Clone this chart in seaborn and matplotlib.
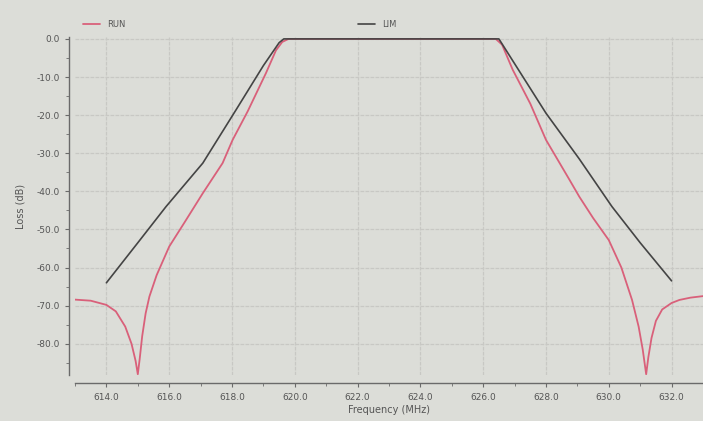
import numpy as np
import pandas as pd
import matplotlib
matplotlib.use('Agg')
import matplotlib.pyplot as plt
import seaborn as sns
from matplotlib.ticker import MultipleLocator, FuncFormatter

run_freq = [612.97, 613.5, 614.0, 614.3, 614.6, 614.8, 614.93, 615.0, 615.06, 615.14,
            615.25, 615.37, 615.6, 616.0, 616.5, 617.07, 617.7, 618.02, 618.5, 619.08,
            619.4, 619.6, 619.8, 626.4, 626.6, 626.94, 627.5, 628.0, 628.75, 629.06,
            629.5, 630.0, 630.4, 630.74, 630.95, 631.08, 631.19, 631.26, 631.36, 631.5,
            631.7, 632.0, 632.25, 632.6, 633.0]
run_loss = [-68.4, -68.7, -69.8, -71.5, -75.5, -80.0, -84.5, -88.0, -84.0, -78.0,
            -72.0, -67.6, -62.0, -54.5, -48.0, -40.5, -32.6, -26.5, -19.0, -9.0,
            -3.0, -0.8, 0.0, 0.0, -1.5, -8.1, -17.0, -26.5, -37.0, -41.4,
            -47.0, -52.8, -60.0, -68.5, -75.5, -81.5, -88.0, -83.5, -78.5, -74.0,
            -71.0, -69.3, -68.5, -67.9, -67.5]

# limit mask (LIM)
lim_freq = [614.0, 615.0, 615.9, 617.07, 618.13, 619.0, 619.5, 619.65,
            626.5, 627.0, 628.0, 629.06, 630.1, 631.0, 632.0]
lim_loss = [-64.0, -53.5, -44.0, -32.6, -18.6, -7.0, -1.0, 0.0,
            0.0, -6.5, -19.5, -31.5, -44.0, -53.5, -63.5]

x_ticks = [614.0, 616.0, 618.0, 620.0, 622.0, 624.0, 626.0, 628.0, 630.0, 632.0]
y_ticks = [0.0, -10.0, -20.0, -30.0, -40.0, -50.0, -60.0, -70.0, -80.0]

df_run = pd.DataFrame({'freq': run_freq, 'loss': run_loss})
df_lim = pd.DataFrame({'freq': lim_freq, 'loss': lim_loss})

bg = '#dcddd8'
txt = '#555555'

sns.set_theme(style='white')
plt.rcParams['font.family'] = ['DejaVu Sans']

fig = plt.figure(figsize=(7.03, 4.21), dpi=100, facecolor=bg)
ax = fig.add_axes([75 / 703, 1 - 375 / 421, 628 / 703, 338 / 421])
ax.set_facecolor(bg)

sns.lineplot(data=df_run, x='freq', y='loss', ax=ax, color='#d9607a', lw=1.3, label='RUN')
sns.lineplot(data=df_lim, x='freq', y='loss', ax=ax, color='#444444', lw=1.2, label='LIM')

ax.set_xlim(613, 633)
ax.set_ylim(-88.2, 0.5)
ax.set_xticks(x_ticks)
ax.set_yticks(y_ticks)
ax.xaxis.set_minor_locator(MultipleLocator(1))
ax.yaxis.set_minor_locator(MultipleLocator(5))
ax.xaxis.set_major_formatter(FuncFormatter(lambda v, p: f'{v:.1f}'))
ax.yaxis.set_major_formatter(FuncFormatter(lambda v, p: f'{v:.1f}' if v != 0 else '0.0'))

ax.grid(True, which='major', color='#c8c8c4', lw=0.9, ls=(0, (3, 1)))
for s in ['top', 'right']:
    ax.spines[s].set_visible(False)
ax.spines['left'].set_position(('outward', 4))
ax.spines['bottom'].set_position(('outward', 6))
for s in ['left', 'bottom']:
    ax.spines[s].set_color('#6a6a6a')
    ax.spines[s].set_linewidth(1.0)

ax.tick_params(axis='both', which='major', direction='out', length=3, width=0.8,
               color='#6a6a6a', labelsize=6.5, labelcolor=txt, pad=4,
               bottom=True, left=True)
ax.tick_params(axis='both', which='minor', direction='out', length=2, width=0.7,
               color='#7a7a7a', bottom=True, left=True)

ax.set_xlabel('Frequency (MHz)', fontsize=7, color=txt, labelpad=2)
ax.set_ylabel('Loss (dB)', fontsize=7, color=txt, labelpad=8)

leg = ax.legend(ncol=2, loc='lower left', bbox_to_anchor=(0.0, 1.0),
                frameon=False, fontsize=6, handlelength=2.0, columnspacing=28,
                labelcolor=txt, borderaxespad=0.6)

fig.savefig('out.png', dpi=100, facecolor=bg)
